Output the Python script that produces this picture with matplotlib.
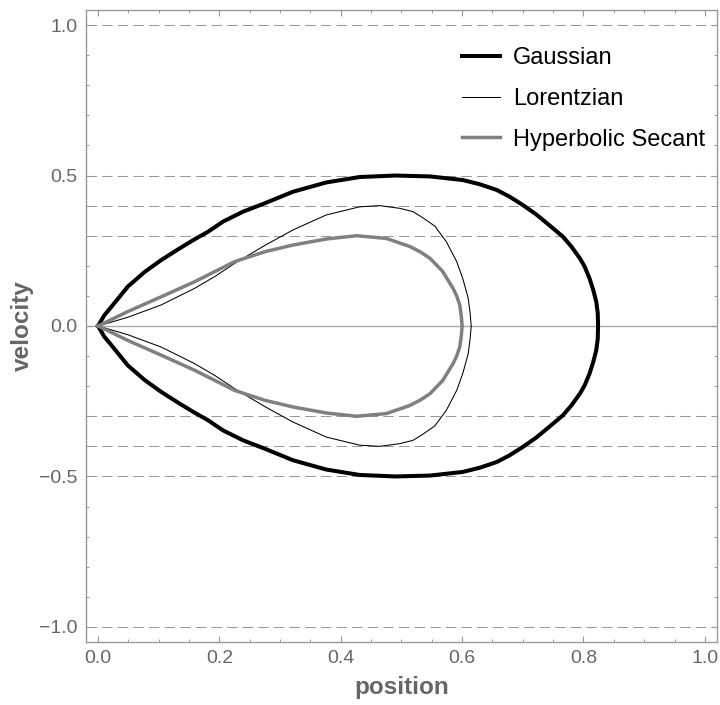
import numpy as np
import matplotlib
matplotlib.use("Agg")
import matplotlib.pyplot as plt
from matplotlib.ticker import MultipleLocator

plt.rcParams['font.family'] = ['Liberation Sans', 'DejaVu Sans']

# upper branches (lower branch is the mirror image)
gauss_x = [0, 0.010, 0.022, 0.049, 0.077, 0.104, 0.132, 0.159, 0.181, 0.206, 0.239, 0.275,
           0.321, 0.376, 0.431, 0.49, 0.547, 0.601, 0.629, 0.657, 0.678, 0.700, 0.722,
           0.740, 0.766, 0.780, 0.794, 0.802, 0.810, 0.816, 0.821, 0.8235, 0.824]
gauss_v = [0, 0.035, 0.064, 0.131, 0.180, 0.219, 0.255, 0.288, 0.313, 0.347, 0.380, 0.408,
           0.446, 0.477, 0.495, 0.500, 0.497, 0.485, 0.471, 0.452, 0.430, 0.402, 0.371,
           0.341, 0.297, 0.264, 0.225, 0.197, 0.158, 0.120, 0.081, 0.043, 0]

lorentz_x = [0, 0.049, 0.104, 0.159, 0.192, 0.225, 0.275, 0.321, 0.376, 0.431, 0.464,
             0.497, 0.519, 0.535, 0.555, 0.574, 0.591, 0.601, 0.610, 0.613, 0.615]
lorentz_v = [0, 0.029, 0.070, 0.125, 0.164, 0.208, 0.268, 0.319, 0.369, 0.396, 0.400,
             0.391, 0.380, 0.360, 0.332, 0.280, 0.214, 0.158, 0.092, 0.045, 0]

sech_x = [0, 0.049, 0.104, 0.159, 0.225, 0.275, 0.321, 0.376, 0.426, 0.475, 0.514,
          0.532, 0.547, 0.568, 0.585, 0.591, 0.596, 0.5985, 0.600]
sech_v = [0, 0.048, 0.097, 0.147, 0.214, 0.247, 0.269, 0.289, 0.300, 0.291, 0.264,
          0.245, 0.225, 0.181, 0.125, 0.100, 0.070, 0.035, 0]

grid_levels = [1.0, 0.5, 0.4, 0.3, -0.3, -0.4, -0.5, -1.0]
labels = ["Gaussian", "Lorentzian", "Hyperbolic Secant"]


def loop(x, v):
    # close the orbit: upper branch out, mirrored branch back
    x = np.array(x)
    v = np.array(v)
    return np.concatenate([x, x[::-1]]), np.concatenate([v, -v[::-1]])


fig = plt.figure(figsize=(7.2, 7.05), dpi=100)
ax = fig.add_axes([0.1194, 0.0894, 0.8764, 0.8964])

for lev in grid_levels:
    ax.axhline(lev, color='#999999', lw=0.75, linestyle=(0, (10, 5)), zorder=1)
ax.axhline(0, color='#aaaaaa', lw=1.0, zorder=1)

gx, gv = loop(gauss_x, gauss_v)
lx, lv = loop(lorentz_x, lorentz_v)
sx, sv = loop(sech_x, sech_v)
ax.plot(gx, gv, color='black', lw=2.9, label=labels[0], zorder=3, solid_joinstyle='round')
ax.plot(lx, lv, color='black', lw=0.75, label=labels[1], zorder=3, solid_joinstyle='round')
ax.plot(sx, sv, color='#808080', lw=2.5, label=labels[2], zorder=3, solid_joinstyle='round')

ax.set_xlim(-0.02, 1.02)
ax.set_ylim(-1.05, 1.05)
ax.xaxis.set_major_locator(MultipleLocator(0.2))
ax.xaxis.set_minor_locator(MultipleLocator(0.05))
ax.yaxis.set_major_locator(MultipleLocator(0.5))
ax.yaxis.set_minor_locator(MultipleLocator(0.1))
ax.xaxis.set_major_formatter(plt.FuncFormatter(lambda v, p: f"{v:.1f}"))
ax.yaxis.set_major_formatter(plt.FuncFormatter(lambda v, p: f"{v:.1f}".replace('-', '\u2212')))

for s in ax.spines.values():
    s.set_color('#999999')
    s.set_linewidth(1.0)
ax.tick_params(which='both', direction='in', top=True, right=True, color='#999999',
               labelcolor='#666666', labelsize=14)
ax.tick_params(which='major', length=4, width=0.8, pad=6)
ax.tick_params(which='minor', length=2.5, width=0.7)

ax.set_xlabel('position', fontsize=17.5, fontweight='bold', color='#666666', labelpad=6)
ax.set_ylabel('velocity', fontsize=17.5, fontweight='bold', color='#666666', labelpad=4)

ax.legend(loc='upper left', bbox_to_anchor=(0.6417, 0.933), bbox_transform=fig.transFigure,
          frameon=False, fontsize=17, handlelength=1.6, handletextpad=0.55,
          labelspacing=0.79, borderpad=0, borderaxespad=0)

fig.savefig('out.png', dpi=100)
